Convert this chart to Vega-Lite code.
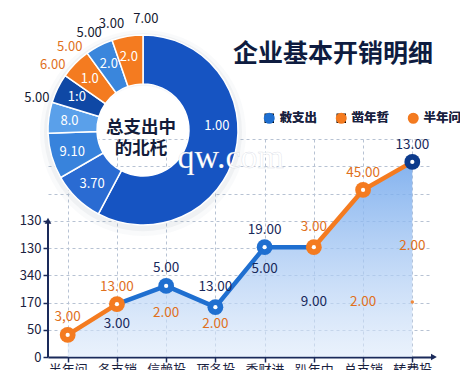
{
  "$schema": "https://vega.github.io/schema/vega-lite/v6.json",
  "width": 384,
  "height": 218,
  "autosize": {"type": "none"},
  "padding": {"left": 48, "top": 139, "right": 28, "bottom": 13},
  "background": "#ffffff",
  "config": {
    "view": {"stroke": null},
    "font": "Noto Sans CJK SC",
    "axis": {"labelFont": "Noto Sans CJK SC"},
    "legend": {"labelFont": "Noto Sans CJK SC"}
  },
  "datasets": {
    "pts": [
      {"cat": "半年问", "v": 0.81, "s": "半年问"},
      {"cat": "各支销", "v": 1.94, "s": "半年问"},
      {"cat": "信赖投", "v": 2.61, "s": "蓝"},
      {"cat": "项各投", "v": 1.83, "s": "蓝"},
      {"cat": "季财进", "v": 4.03, "s": "蓝"},
      {"cat": "趴年中", "v": 4.03, "s": "半年问"},
      {"cat": "总支销", "v": 6.13, "s": "半年问"},
      {"cat": "转费投", "v": 7.16, "s": "末"}
    ],
    "segs": [
      {"cat": "半年问", "v": 0.81, "seg": "a", "s": "凿年哲"},
      {"cat": "各支销", "v": 1.94, "seg": "a", "s": "凿年哲"},
      {"cat": "各支销", "v": 1.94, "seg": "b", "s": "敹支出"},
      {"cat": "信赖投", "v": 2.61, "seg": "b", "s": "敹支出"},
      {"cat": "项各投", "v": 1.83, "seg": "b", "s": "敹支出"},
      {"cat": "季财进", "v": 4.03, "seg": "b", "s": "敹支出"},
      {"cat": "趴年中", "v": 4.03, "seg": "b", "s": "敹支出"},
      {"cat": "趴年中", "v": 4.03, "seg": "c", "s": "凿年哲"},
      {"cat": "总支销", "v": 6.13, "seg": "c", "s": "凿年哲"},
      {"cat": "转费投", "v": 7.16, "seg": "c", "s": "凿年哲"}
    ],
    "lbl": [
      {"cat": "半年问", "v": 1.47, "t": "3,00", "g": "o"},
      {"cat": "各支销", "v": 2.57, "t": "13.00", "g": "o"},
      {"cat": "各支销", "v": 1.21, "t": "3.00", "g": "n"},
      {"cat": "信赖投", "v": 3.27, "t": "5.00", "g": "n"},
      {"cat": "信赖投", "v": 1.61, "t": "2.00", "g": "o"},
      {"cat": "项各投", "v": 2.57, "t": "13.00", "g": "n"},
      {"cat": "项各投", "v": 1.21, "t": "2.00", "g": "o"},
      {"cat": "季财进", "v": 4.66, "t": "19.00", "g": "n"},
      {"cat": "季财进", "v": 3.23, "t": "5.00", "g": "n"},
      {"cat": "趴年中", "v": 4.77, "t": "3.00", "g": "o"},
      {"cat": "趴年中", "v": 2.02, "t": "9.00", "g": "n"},
      {"cat": "总支销", "v": 2.02, "t": "2.00", "g": "o"},
      {"cat": "总支销", "v": 6.75, "t": "45.00", "g": "o"},
      {"cat": "转费投", "v": 4.07, "t": "2.00", "g": "o"},
      {"cat": "转费投", "v": 7.78, "t": "13.00", "g": "n"}
    ],
    "donut": [
      {"k": "A", "ord": 1, "share": 208, "lab": "1.00", "la": 87},
      {"k": "B", "ord": 2, "share": 32, "lab": "3.70", "la": 223.5},
      {"k": "C", "ord": 3, "share": 28, "lab": "9.10", "la": 253},
      {"k": "D", "ord": 4, "share": 19, "lab": "8.0", "la": 277},
      {"k": "E", "ord": 5, "share": 18, "lab": "1:0", "la": 296.6},
      {"k": "F", "ord": 6, "share": 19, "lab": "1.0", "la": 314},
      {"k": "G", "ord": 7, "share": 17, "lab": "2.0", "la": 332.5},
      {"k": "H", "ord": 8, "share": 19, "lab": "2.0", "la": 349}
    ],
    "olbl": [
      {"ang": 287, "t": "5.00", "g": "n"},
      {"ang": 305.6, "t": "6.00", "g": "o"},
      {"ang": 318.7, "t": "5.00", "g": "o"},
      {"ang": 331, "t": "5.00", "g": "n"},
      {"ang": 343.5, "t": "3.00", "g": "n"},
      {"ang": 1.5, "t": "7.00", "g": "n"}
    ]
  },
  "layer": [
    {
      "encoding": {
        "x": {
          "field": "cat", "type": "nominal",
          "sort": ["半年问", "各支销", "信赖投", "项各投", "季财进", "趴年中", "总支销", "转费投"],
          "scale": {"type": "point", "padding": 0.4, "domain": ["半年问", "各支销", "信赖投", "项各投", "季财进", "趴年中", "总支销", "转费投"]},
          "axis": {
            "title": null, "labelAngle": 0, "labelFontSize": 13, "labelColor": "#1a2240",
            "labelPadding": 1, "tickSize": 5, "tickColor": "#1a2a5a", "tickWidth": 1.5,
            "domainColor": "#1a2a5a", "domainWidth": 2,
            "grid": true, "gridDash": [3, 3], "gridColor": "#b7c2d3", "gridWidth": 1
          }
        },
        "y": {
          "field": "v", "type": "quantitative",
          "scale": {"domain": [0, 8], "nice": false, "zero": true},
          "axis": {
            "title": null, "values": [0, 1, 2, 3, 4, 5, 6, 7, 8],
            "labelExpr": "datum.value <= 5 ? ['0','50','170','340','130','130'][datum.value] : ''",
            "domain": false, "tickSize": 5, "tickColor": "#1a2a5a", "tickWidth": 1.5,
            "tickOpacity": {"condition": {"test": "datum.value > 5", "value": 0}, "value": 1},
            "grid": true, "gridDash": [3, 3], "gridColor": "#b7c2d3", "gridWidth": 1,
            "labelFontSize": 13, "labelColor": "#1a2240", "labelPadding": 2
          }
        }
      },
      "layer": [
        {
          "data": {"name": "pts"},
          "mark": {
            "type": "area",
            "color": {
              "gradient": "linear", "x1": 0, "y1": 0, "x2": 0, "y2": 1,
              "stops": [
                {"offset": 0, "color": "rgba(110,165,236,0.85)"},
                {"offset": 1, "color": "rgba(220,233,250,0.6)"}
              ]
            }
          }
        },
        {
          "data": {"name": "segs"},
          "mark": {"type": "line", "strokeWidth": 4.5, "strokeCap": "round", "strokeJoin": "round"},
          "encoding": {
            "detail": {"field": "seg"},
            "color": {
              "field": "s", "type": "nominal",
              "scale": {"domain": ["敹支出", "凿年哲", "半年问", "蓝", "末"], "range": ["#1f6fd0", "#f47b20", "#f47b20", "#1f6fd0", "#0d3b8c"]}
            }
          }
        },
        {
          "data": {"name": "pts"},
          "mark": {"type": "point", "filled": true, "size": 250, "opacity": 1},
          "encoding": {
            "color": {
              "field": "s", "type": "nominal",
              "legend": {
                "orient": "none", "legendX": 215, "legendY": -27, "direction": "horizontal", "columns": 3,
                "title": null, "values": ["敹支出", "凿年哲", "半年问"],
                "symbolSize": 90, "symbolOpacity": 1, "labelFontSize": 12.5, "labelFontWeight": "bold",
                "labelColor": "#1a2240", "labelOffset": 4, "columnPadding": 15, "padding": 0
              }
            },
            "shape": {
              "field": "s", "type": "nominal",
              "scale": {"domain": ["敹支出", "凿年哲", "半年问", "蓝", "末"], "range": ["square", "square", "circle", "circle", "circle"]},
              "legend": {
                "orient": "none", "legendX": 215, "legendY": -27, "direction": "horizontal", "columns": 3,
                "title": null, "values": ["敹支出", "凿年哲", "半年问"],
                "symbolSize": 90, "symbolOpacity": 1, "labelFontSize": 12.5, "labelFontWeight": "bold",
                "labelColor": "#1a2240", "labelOffset": 4, "columnPadding": 15, "padding": 0
              }
            }
          }
        },
        {
          "data": {"name": "pts"},
          "mark": {"type": "circle", "color": "#ffffff", "size": 18, "opacity": 1}
        },
        {
          "data": {"values": [{"cat": "转费投", "v": 2.02}]},
          "mark": {"type": "circle", "color": "#f08a3c", "size": 12, "opacity": 1}
        },
        {
          "data": {"name": "lbl"},
          "mark": {"type": "text", "fontSize": 13.5, "baseline": "middle"},
          "encoding": {
            "text": {"field": "t"},
            "color": {"condition": {"test": "datum.g === 'o'", "value": "#e0701c"}, "value": "#17285a"}
          }
        }
      ]
    },
    {
      "encoding": {
        "x": {"datum": 0.2474, "type": "quantitative", "scale": {"domain": [0, 1], "nice": false, "zero": false}, "axis": null},
        "y": {"datum": 8.33, "type": "quantitative", "scale": {"domain": [0, 8], "nice": false, "zero": false}, "axis": null}
      },
      "layer": [
        {
          "data": {"values": [{}]},
          "mark": {"type": "arc", "theta": 0, "theta2": 6.2832, "outerRadius": 103, "innerRadius": 47, "color": "#6d7a90", "opacity": 0.04},
          "encoding": {"y": {"datum": 8.22, "type": "quantitative"}}
        },
        {
          "data": {"values": [{}]},
          "mark": {"type": "arc", "theta": 0, "theta2": 6.2832, "outerRadius": 99, "innerRadius": 47, "color": "#6d7a90", "opacity": 0.07},
          "encoding": {"y": {"datum": 8.25, "type": "quantitative"}}
        },
        {
          "data": {"name": "donut"},
          "mark": {"type": "arc", "outerRadius": 95, "innerRadius": 46, "stroke": "#ffffff", "strokeWidth": 1.5},
          "encoding": {
            "theta": {"field": "share", "type": "quantitative", "stack": true, "scale": {"domain": [0, 360], "nice": false, "zero": true}},
            "order": {"field": "ord"},
            "color": {
              "field": "k", "type": "nominal", "legend": null,
              "scale": {"domain": ["A", "B", "C", "D", "E", "F", "G", "H"], "range": ["#1654c2", "#2a6bd2", "#3883dc", "#5aa0ea", "#0f48a5", "#f47b20", "#3a86dc", "#f47b20"]}
            }
          }
        },
        {
          "data": {"name": "donut"},
          "mark": {"type": "text", "radius": 74, "color": "#ffffff", "fontSize": 13, "baseline": "middle"},
          "encoding": {
            "theta": {"field": "la", "type": "quantitative", "stack": false},
            "text": {"field": "lab"}
          }
        },
        {
          "data": {"name": "olbl"},
          "mark": {"type": "text", "radius": 111, "fontSize": 13, "baseline": "middle"},
          "encoding": {
            "theta": {"field": "ang", "type": "quantitative", "stack": false},
            "text": {"field": "t"},
            "color": {"condition": {"test": "datum.g === 'o'", "value": "#e0701c"}, "value": "#151a30"}
          }
        },
        {
          "data": {"values": [{}]},
          "mark": {"type": "text", "text": "总支出中", "fontSize": 17.5, "fontWeight": "bold", "color": "#131c3a", "baseline": "middle"},
          "encoding": {"x": {"datum": 0.242, "type": "quantitative"}, "y": {"datum": 8.4, "type": "quantitative"}}
        },
        {
          "data": {"values": [{}]},
          "mark": {"type": "text", "text": "的北杔", "fontSize": 17.5, "fontWeight": "bold", "color": "#131c3a", "baseline": "middle"},
          "encoding": {"x": {"datum": 0.242, "type": "quantitative"}, "y": {"datum": 7.64, "type": "quantitative"}}
        },
        {
          "data": {"values": [{}]},
          "mark": {"type": "text", "text": "qw.com", "font": "Liberation Serif", "fontSize": 34, "color": "#ffffff", "stroke": "#9aa8bd", "strokeWidth": 0.5, "strokeOpacity": 0.35, "baseline": "middle"},
          "encoding": {"x": {"datum": 0.476, "type": "quantitative"}, "y": {"datum": 7.3, "type": "quantitative"}}
        },
        {
          "data": {"values": [{}]},
          "mark": {"type": "text", "text": "企业基本开销明细", "fontSize": 25, "fontWeight": "bold", "color": "#0e1c40", "baseline": "middle"},
          "encoding": {"x": {"datum": 0.742, "type": "quantitative"}, "y": {"datum": 11.12, "type": "quantitative"}}
        },
        {
          "data": {"values": [{}]},
          "mark": {"type": "rule", "color": "#1a2a5a", "strokeWidth": 2},
          "encoding": {"x": {"datum": 0, "type": "quantitative"}, "y": {"datum": 0, "type": "quantitative"}, "y2": {"datum": 5.0}}
        },
        {
          "data": {"values": [{}]},
          "mark": {"type": "point", "shape": "triangle-up", "filled": true, "size": 45, "color": "#1a2a5a", "opacity": 1},
          "encoding": {"x": {"datum": 0, "type": "quantitative"}, "y": {"datum": 5.0, "type": "quantitative"}}
        },
        {
          "data": {"values": [{}]},
          "mark": {"type": "point", "shape": "triangle-right", "filled": true, "size": 45, "color": "#1a2a5a", "opacity": 1},
          "encoding": {"x": {"datum": 1.005, "type": "quantitative"}, "y": {"datum": 0, "type": "quantitative"}}
        }
      ]
    }
  ],
  "resolve": {"scale": {"x": "independent", "y": "independent", "color": "independent"}}
}
